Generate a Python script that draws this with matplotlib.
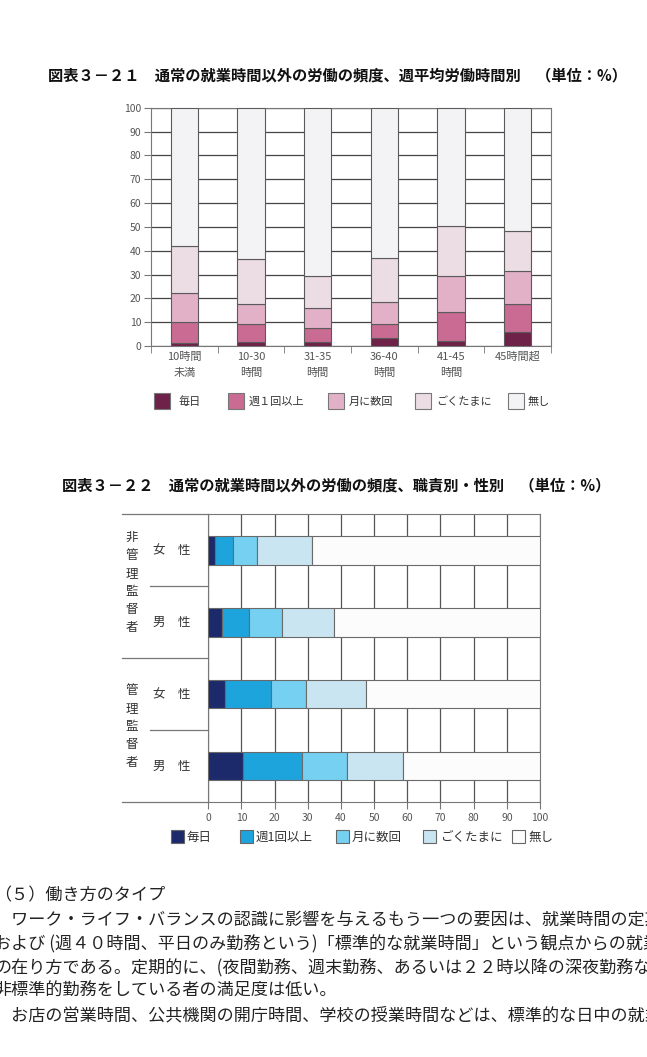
import matplotlib

matplotlib.use("Agg")

import matplotlib.pyplot as plt  # noqa: E402
import numpy as np  # noqa: E402
from matplotlib.patches import Rectangle  # noqa: E402
from matplotlib.transforms import blended_transform_factory  # noqa: E402

plt.rcParams["font.family"] = ["Noto Sans CJK JP", "DejaVu Sans"]

W, H = 647, 1057

# chart 3-21: weekly working hours
HOURS = ["10時間\n未満", "10-30\n時間", "31-35\n時間", "36-40\n時間", "41-45\n時間", "45時間超"]
FREQ_1 = ["毎日", "週１回以上", "月に数回", "ごくたまに", "無し"]
H_DAILY = [1.1, 1.8, 1.5, 3.4, 2.2, 6.0]
H_WEEKLY = [9.1, 7.4, 6.1, 6.0, 11.9, 11.5]
H_MONTHLY = [12.2, 8.6, 8.2, 9.2, 15.1, 14.1]
H_RARELY = [19.7, 18.7, 13.4, 18.3, 21.0, 16.7]
H_NEVER = [57.9, 63.5, 70.8, 63.1, 49.8, 51.7]
COLORS_1 = ["#6e2149", "#c96b93", "#e2b1c8", "#ecdce3", "#f3f2f5"]

# chart 3-22: position and sex
GROUPS = ["非管理監督者", "管理監督者"]
ROLES = ["女　性", "男　性", "女　性", "男　性"]
FREQ_2 = ["毎日", "週1回以上", "月に数回", "ごくたまに", "無し"]
R_DAILY = [2.0, 4.2, 5.1, 10.6]
R_WEEKLY = [5.3, 8.2, 13.7, 17.5]
R_MONTHLY = [7.5, 9.7, 10.8, 13.6]
R_RARELY = [16.5, 15.9, 17.9, 16.9]
R_NEVER = [68.7, 62.0, 52.5, 41.4]
COLORS_2 = ["#1c2a6c", "#1ea4dd", "#76d0f1", "#cae5f2", "#fcfcfc"]

TITLE_1 = "図表３－２１　通常の就業時間以外の労働の頻度、週平均労働時間別　（単位：%）"
TITLE_2 = "図表３－２２　通常の就業時間以外の労働の頻度、職責別・性別　（単位：%）"

BODY = [
    "（５）働き方のタイプ",
    "　ワーク・ライフ・バランスの認識に影響を与えるもう一つの要因は、就業時間の定期",
    "および (週４０時間、平日のみ勤務という)「標準的な就業時間」という観点からの就業",
    "の在り方である。定期的に、(夜間勤務、週末勤務、あるいは２２時以降の深夜勤務な",
    "非標準的勤務をしている者の満足度は低い。",
    "　お店の営業時間、公共機関の開庁時間、学校の授業時間などは、標準的な日中の就業",
]

GRAY_TEXT = "#555555"


def fx(px):
    return px / W


def fy(px):
    return 1 - px / H


def legend_row(fig, labels, colors, box_x, text_x, y, box, fontsize, edge):
    for lab, col, bx, tx in zip(labels, colors, box_x, text_x):
        fig.add_artist(
            Rectangle(
                (fx(bx), fy(y + box / 2)),
                box / W,
                box / H,
                facecolor=col,
                edgecolor=edge,
                linewidth=0.8,
                transform=fig.transFigure,
            )
        )
        fig.text(fx(tx), fy(y + 1), lab, fontsize=fontsize, va="center", ha="left", color="#333333")


fig = plt.figure(figsize=(W / 100, H / 100), dpi=100)

# ---------- chart 1 ----------
fig.text(fx(48), fy(75), TITLE_1, fontsize=11, fontweight="bold", va="center", ha="left", color="#111111")

ax1 = fig.add_axes([fx(151), fy(346), fx(400), 238.3 / H])
x = np.arange(len(HOURS))
bottom = np.zeros(len(HOURS))
for vals, col in zip([H_DAILY, H_WEEKLY, H_MONTHLY, H_RARELY, H_NEVER], COLORS_1):
    ax1.bar(x, vals, 0.41, bottom=bottom, color=col, edgecolor="#5a5a5a", linewidth=0.8, zorder=3)
    bottom += np.array(vals)

ax1.set_xlim(-0.5, len(HOURS) - 0.5)
ax1.set_ylim(0, 100)
ax1.set_yticks(range(0, 101, 10))
ax1.grid(axis="y", color="#444444", linewidth=0.9, zorder=0)
ax1.set_axisbelow(True)
ax1.set_xticks(x)
ax1.set_xticklabels(HOURS, fontsize=8, color=GRAY_TEXT, linespacing=1.75)
ax1.set_xticks(np.arange(-0.5, len(HOURS), 1), minor=True)
ax1.tick_params(axis="x", which="major", length=0, pad=4)
ax1.tick_params(axis="x", which="minor", length=5, color="#777777", direction="out")
ax1.tick_params(axis="y", length=5, color="#777777", labelsize=7.5, labelcolor=GRAY_TEXT, pad=2)
for sp in ax1.spines.values():
    sp.set_color("#777777")

legend_row(fig, FREQ_1, COLORS_1, [154, 228, 328, 415, 508], [179, 249, 349, 436, 528],
           401, 16, 8, "#777777")

# ---------- chart 2 ----------
fig.text(fx(62), fy(485), TITLE_2, fontsize=11, fontweight="bold", va="center", ha="left", color="#111111")

ax2 = fig.add_axes([fx(208.3), fy(802), fx(331.7), 287.7 / H])
y = np.arange(len(ROLES))
left = np.zeros(len(ROLES))
for vals, col in zip([R_DAILY, R_WEEKLY, R_MONTHLY, R_RARELY, R_NEVER], COLORS_2):
    ax2.barh(y, vals, 0.4, left=left, color=col, edgecolor="#6a6a6a", linewidth=0.8, zorder=3)
    left += np.array(vals)

ax2.set_xlim(0, 100)
ax2.set_ylim(len(ROLES) - 0.5, -0.5)
ax2.set_xticks(range(0, 101, 10))
ax2.set_yticks([])
ax2.grid(axis="x", color="#555555", linewidth=0.9, zorder=0)
ax2.set_axisbelow(True)
ax2.tick_params(axis="x", length=5, color="#777777", labelsize=7.5, labelcolor=GRAY_TEXT, pad=3)
for sp in ax2.spines.values():
    sp.set_color("#777777")

tr = blended_transform_factory(ax2.transAxes, ax2.transData)
outer, inner = -0.261, -0.176
for yy, x0 in [(-0.5, outer), (0.5, inner), (1.5, outer), (2.5, inner), (3.5, outer)]:
    ax2.plot([x0, 0], [yy, yy], transform=tr, color="#777777", linewidth=0.9, clip_on=False)

for i, grp in enumerate(GROUPS):
    ax2.text(-0.230, 2 * i + 0.45, "\n".join(grp), transform=tr, fontsize=9, ha="center", va="center",
             color="#333333", linespacing=1.5)
for i, role in enumerate(ROLES):
    ax2.text(-0.109, i, role, transform=tr, fontsize=9, ha="center", va="center", color="#333333")

legend_row(fig, FREQ_2, COLORS_2, [170.7, 240, 335.7, 423, 511.7], [186.7, 256, 352, 440, 528],
           836, 13, 9, "#666666")

# ---------- body text ----------
for line, yy in zip(BODY, [895, 920, 944, 968, 991, 1015]):
    fig.text(fx(-6), fy(yy), line, fontsize=12.3, va="center", ha="left", color="#222222")

fig.savefig("out.png", dpi=100)
